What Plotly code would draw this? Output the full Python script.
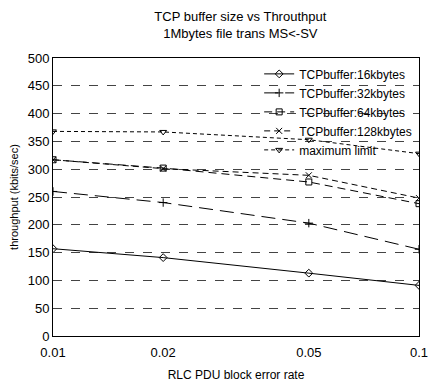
import plotly.graph_objects as go

error_rate = [0.01, 0.02, 0.05, 0.1]
tcp16 = [157, 141, 113, 91]
tcp32 = [260, 240, 203, 156]
tcp64 = [317, 302, 277, 238]
tcp128 = [317, 301, 289, 248]
max_limit = [368, 367, 353, 328]

x_ticks = [0.01, 0.02, 0.05, 0.1]
x_tick_labels = ["0.01", "0.02", "0.05", "0.1"]
y_ticks = list(range(0, 501, 50))

series = [
    ("TCPbuffer:16kbytes", tcp16, "diamond-open", "solid"),
    ("TCPbuffer:32kbytes", tcp32, "cross-thin-open", "14px,7px"),
    ("TCPbuffer:64kbytes", tcp64, "square-open", "8px,5px"),
    ("TCPbuffer:128kbytes", tcp128, "x-thin-open", "6px,4px"),
    ("maximum limit", max_limit, "triangle-down-open", "4px,3px"),
]

fig = go.Figure()
for name, vals, sym, dash in series:
    fig.add_trace(go.Scatter(
        x=error_rate, y=vals, name=name, mode="lines+markers",
        line=dict(color="black", width=1, dash=dash),
        marker=dict(symbol=sym, size=6, color="black", line=dict(color="black", width=1)),
    ))

fam = "Liberation Sans, Arial, sans-serif"
fig.update_layout(
    width=437, height=389,
    margin=dict(l=53, r=9, t=58, b=46),
    paper_bgcolor="white", plot_bgcolor="white",
    font=dict(family=fam, size=12, color="black"),
    title=dict(text="TCP buffer size vs Throuthput<br>1Mbytes file trans MS<-SV",
               x=0.55, xanchor="center", y=0.947, yanchor="top",
               font=dict(family=fam, size=13, color="black")),
    showlegend=True,
    legend=dict(x=0.995, xanchor="right", y=0.995, yanchor="top",
                bgcolor="rgba(0,0,0,0)", font=dict(family=fam, size=12), tracegroupgap=0,
                itemwidth=30),
    xaxis=dict(type="log", range=[-2, -1], tickvals=x_ticks, ticktext=x_tick_labels,
               showgrid=False, showline=True, linecolor="black", linewidth=1, mirror=True,
               ticks="", zeroline=False, ticklabelstandoff=4,
               tickfont=dict(family=fam, size=13),
               title=dict(text="RLC PDU block error rate", standoff=12,
                          font=dict(family=fam, size=12))),
    yaxis=dict(range=[0, 500], tickvals=y_ticks, showgrid=True, gridcolor="#444",
               griddash="dash", gridwidth=1, showline=True, linecolor="black", linewidth=1,
               mirror="ticks", ticks="inside", ticklen=4, zeroline=False,
               tickfont=dict(family=fam, size=13),
               title=dict(text="throughput (kbits/sec)", standoff=6,
                          font=dict(family=fam, size=11))),
)
fig.write_html("out.html")
